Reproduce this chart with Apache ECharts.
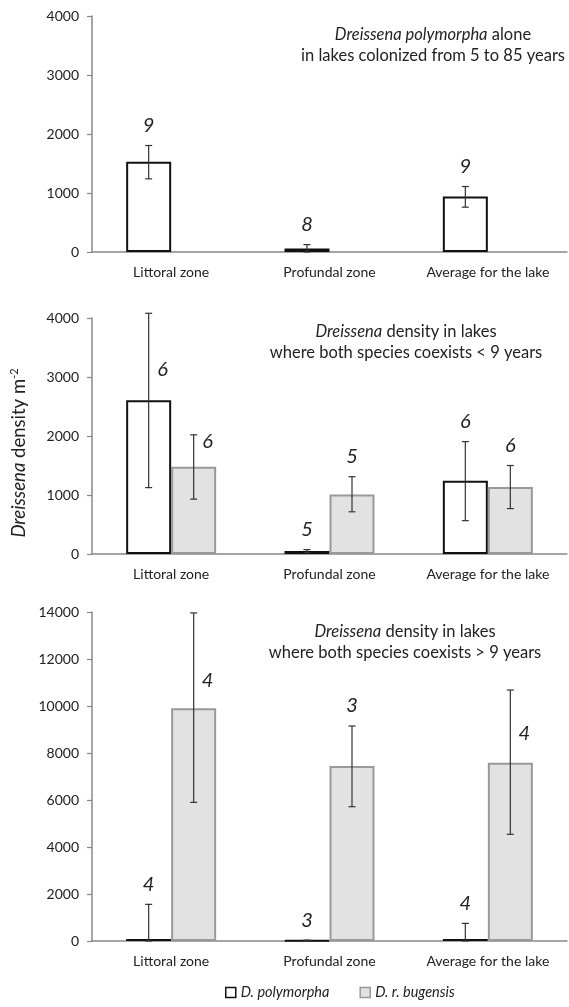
<!DOCTYPE html>
<html>
<head>
<meta charset="utf-8">
<title>Dreissena density</title>
<script src="https://cdn.jsdelivr.net/npm/echarts@6/dist/echarts.min.js"></script>
<style>
  html, body { margin: 0; padding: 0; background: #fff; }
  #chart { width: 569px; height: 1007px; }
</style>
</head>
<body>
<div id="chart"></div>
<script>
// categories shared by the three panels
const categories = ["Littoral zone", "Profundal zone", "Average for the lake"];

// panel A: D. polymorpha alone, lakes colonized 5-85 years
const polyAlone = [1530, 60, 940];
const polyAloneLow = [1240, 0, 760];
const polyAloneHigh = [1805, 125, 1110];
const polyAloneN = [9, 8, 9];

// panel B: both species coexist < 9 years
const polyShort = [2605, 50, 1243];
const polyShortLow = [1125, 25, 565];
const polyShortHigh = [4080, 75, 1905];
const polyShortN = [6, 5, 6];
const bugShort = [1480, 1010, 1135];
const bugShortLow = [930, 715, 770];
const bugShortHigh = [2020, 1310, 1500];
const bugShortN = [6, 5, 6];

// panel C: both species coexist > 9 years
const polyLong = [90, 30, 90];
const polyLongLow = [0, 30, 0];
const polyLongHigh = [1560, 30, 750];
const polyLongN = [4, 3, 4];
const bugLong = [9900, 7450, 7590];
const bugLongLow = [5900, 5715, 4540];
const bugLongHigh = [13960, 9150, 10680];
const bugLongN = [4, 3, 4];

// y ticks
const yTicksSmall = [0, 1000, 2000, 3000, 4000];
const yTicksLarge = [0, 2000, 4000, 6000, 8000, 10000, 12000, 14000];

// where an n label sits beside the bar instead of above the error bar (value units)
const polyShortNAt = [3120, null, null];
const bugShortNAt = [1900, null, null];
const bugLongNAt = [11080, null, 8840];
const none = [null, null, null];

const FONT = "Lato, 'Open Sans', sans-serif";
const BAR_W = 45;
const AXIS_COLOR = "#888";

const chart = echarts.init(document.getElementById("chart"), null, { renderer: "canvas" });

const grids = [
  { left: 92, right: 2, top: 16, bottom: 755 },
  { left: 92, right: 2, top: 318, bottom: 453 },
  { left: 92, right: 2, top: 612, bottom: 66 },
];

function xAxis(gridIndex) {
  return {
    type: "category",
    gridIndex: gridIndex,
    data: categories,
    axisLine: { lineStyle: { color: AXIS_COLOR, width: 1.5 } },
    axisTick: { length: 5, lineStyle: { color: AXIS_COLOR, width: 1.2 } },
    axisLabel: { color: "#222", fontFamily: FONT, fontSize: 14, margin: 13, interval: 0 },
  };
}

function yAxis(gridIndex, ticks) {
  return {
    type: "value",
    gridIndex: gridIndex,
    min: ticks[0],
    max: ticks[ticks.length - 1],
    interval: ticks[1] - ticks[0],
    splitLine: { show: false },
    axisLine: { show: true, lineStyle: { color: AXIS_COLOR, width: 1.5 } },
    axisTick: { show: true, length: 5, lineStyle: { color: AXIS_COLOR, width: 1.2 } },
    axisLabel: {
      color: "#222",
      fontFamily: FONT,
      fontSize: 14,
      margin: 13,
      formatter: (v) => String(v),
    },
  };
}

const polyStyle = { color: "#fff", borderColor: "#111", borderWidth: 2 };
const bugStyle = { color: "#e2e2e2", borderColor: "#999", borderWidth: 2 };

function barSeries(name, idx, values, style) {
  return {
    name: name,
    type: "bar",
    xAxisIndex: idx,
    yAxisIndex: idx,
    barWidth: BAR_W,
    barGap: "0%",
    itemStyle: style,
    data: values,
    z: 2,
  };
}

// error bars + sample size labels, drawn through the axis scales
function errorSeries(idx, low, high, n, nAt, offset) {
  return {
    type: "custom",
    xAxisIndex: idx,
    yAxisIndex: idx,
    z: 5,
    silent: true,
    data: categories.map((c, i) => [i, low[i], high[i]]),
    renderItem(params, api) {
      const i = params.dataIndex;
      const cat = api.value(0);
      const cx = api.coord([cat, 0])[0] + offset;
      const yLow = api.coord([cat, api.value(1)])[1];
      const yHigh = api.coord([cat, api.value(2)])[1];
      const stroke = { stroke: "#333", lineWidth: 1.2 };
      const children = [
        { type: "line", shape: { x1: cx, y1: yLow, x2: cx, y2: yHigh }, style: stroke },
        { type: "line", shape: { x1: cx - 3.5, y1: yHigh, x2: cx + 3.5, y2: yHigh }, style: stroke },
        { type: "line", shape: { x1: cx - 3.5, y1: yLow, x2: cx + 3.5, y2: yLow }, style: stroke },
      ];
      let tx = cx;
      let ty = yHigh - 20;
      if (nAt[i] != null) {
        tx = cx + 14;
        ty = api.coord([cat, nAt[i]])[1];
      }
      children.push({
        type: "text",
        x: tx,
        y: ty,
        style: {
          text: String(n[i]),
          fill: "#222",
          font: "italic 20px " + FONT,
          textAlign: "center",
          textVerticalAlign: "middle",
        },
      });
      return { type: "group", children: children };
    },
  };
}

const titleRich = {
  i: { fontFamily: FONT, fontSize: 16.5, fontStyle: "italic", fill: "#222", lineHeight: 21 },
  n: { fontFamily: FONT, fontSize: 16.5, fill: "#222", lineHeight: 21 },
};

function panelTitle(x, y, text) {
  return {
    type: "text",
    x: x,
    y: y,
    style: {
      text: text,
      rich: titleRich,
      textAlign: "center",
      textVerticalAlign: "middle",
    },
  };
}

chart.setOption({
  animation: false,
  grid: grids,
  xAxis: [xAxis(0), xAxis(1), xAxis(2)],
  yAxis: [yAxis(0, yTicksSmall), yAxis(1, yTicksSmall), yAxis(2, yTicksLarge)],
  legend: {
    left: 225,
    top: 985,
    icon: "rect",
    itemWidth: 10,
    itemHeight: 10,
    itemGap: 30,
    padding: 0,
    textStyle: { fontFamily: FONT, fontSize: 14.5, fontStyle: "italic", color: "#222" },
    data: [
      { name: "D. polymorpha", itemStyle: { color: "#fff", borderColor: "#111", borderWidth: 1.5 } },
      { name: "D. r. bugensis", itemStyle: { color: "#e2e2e2", borderColor: "#999", borderWidth: 1.5 } },
    ],
  },
  graphic: [
    panelTitle(433, 45, "{i|Dreissena polymorpha}{n| alone}\n{n|in lakes colonized from 5 to 85 years}"),
    panelTitle(406, 342, "{i|Dreissena}{n| density in lakes}\n{n|where both species coexists < 9 years}"),
    panelTitle(405, 642, "{i|Dreissena}{n| density in lakes}\n{n|where both species coexists > 9 years}"),
    {
      type: "text",
      x: 19,
      y: 453,
      rotation: Math.PI / 2,
      style: {
        text: "{i|Dreissena}{n| density m}{s|-2}",
        textAlign: "center",
        textVerticalAlign: "middle",
        rich: {
          i: { fontFamily: FONT, fontSize: 18.5, fontStyle: "italic", fill: "#222" },
          n: { fontFamily: FONT, fontSize: 18.5, fill: "#222" },
          s: { fontFamily: FONT, fontSize: 11, fill: "#222", padding: [0, 0, 10, 0] },
        },
      },
    },
  ],
  series: [
    barSeries("D. polymorpha", 0, polyAlone, polyStyle),
    barSeries("D. r. bugensis", 0, ["-", "-", "-"], bugStyle),
    errorSeries(0, polyAloneLow, polyAloneHigh, polyAloneN, none, -BAR_W / 2),

    barSeries("D. polymorpha", 1, polyShort, polyStyle),
    barSeries("D. r. bugensis", 1, bugShort, bugStyle),
    errorSeries(1, polyShortLow, polyShortHigh, polyShortN, polyShortNAt, -BAR_W / 2),
    errorSeries(1, bugShortLow, bugShortHigh, bugShortN, bugShortNAt, BAR_W / 2),

    barSeries("D. polymorpha", 2, polyLong, polyStyle),
    barSeries("D. r. bugensis", 2, bugLong, bugStyle),
    errorSeries(2, polyLongLow, polyLongHigh, polyLongN, none, -BAR_W / 2),
    errorSeries(2, bugLongLow, bugLongHigh, bugLongN, bugLongNAt, BAR_W / 2),
  ],
});
</script>
</body>
</html>
